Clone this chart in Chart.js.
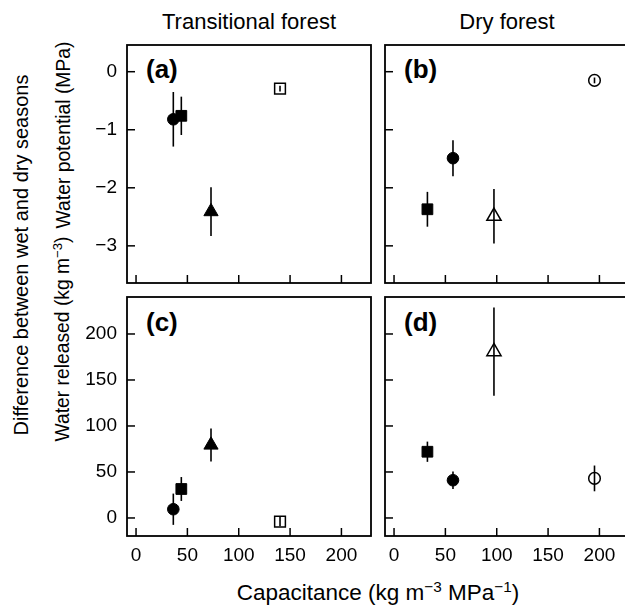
<!DOCTYPE html>
<html>
<head>
<meta charset="utf-8">
<script src="https://cdn.jsdelivr.net/npm/chart.js@4.4.0/dist/chart.umd.min.js"></script>
<style>
  html, body { margin: 0; padding: 0; background: #fff; width: 625px; height: 605px; overflow: hidden; }
  body { position: relative; font-family: "Liberation Sans", Arial, sans-serif; color: #000; }
  canvas { position: absolute; }
  .txt { position: absolute; white-space: nowrap; font-size: 22px; line-height: 24px; }
  .ylab { font-size: 20px; }
  .ylab2 { font-size: 19.3px; }
  .panel { position: absolute; white-space: nowrap; font-size: 26px; font-weight: bold; line-height: 26px; }
  .rot { transform: translate(-50%, -50%) rotate(-90deg); }
  .sup { font-size: 0.68em; position: relative; top: -0.55em; }
</style>
</head>
<body>
<div class="txt" style="left:127px;width:244px;text-align:center;top:10px">Transitional forest</div>
<div class="txt" style="left:385px;width:244px;text-align:center;top:10px">Dry forest</div>
<div class="txt ylab rot" style="left:21px;top:255px">Difference between wet and dry seasons</div>
<div class="txt ylab2 rot" style="left:64px;top:135px">Water potential (MPa)</div>
<div class="txt ylab2 rot" style="left:64px;top:339px">Water released (kg m<span class="sup">&minus;3</span>)</div>
<div class="txt" style="left:127px;width:502px;text-align:center;top:581px;font-size:22.5px">Capacitance (kg m<span class="sup">&minus;3</span> MPa<span class="sup">&minus;1</span>)</div>
<div class="panel" style="left:146px;top:56px">(a)</div>
<div class="panel" style="left:404px;top:56px">(b)</div>
<div class="panel" style="left:146px;top:309px">(c)</div>
<div class="panel" style="left:404px;top:309px">(d)</div>

<script>
// capacitance (x) of each species, transitional forest then dry forest
const transCapacitance = [36.3, 44.1, 73, 140.2];
const dryCapacitance = [57.4, 32.5, 97.3, 195.2];

// water potential difference (MPa) and its error
const transPotential = [-0.82, -0.76, -2.41, -0.29];
const transPotentialErr = [0.47, 0.33, 0.42, 0.05];
const dryPotential = [-1.49, -2.37, -2.49, -0.15];
const dryPotentialErr = [0.31, 0.30, 0.47, 0.05];

// water released (kg m-3) and its error
const transReleased = [9.5, 31.5, 79.3, -4];
const transReleasedErr = [17, 13, 18, 5];
const dryReleased = [41, 72, 180.8, 43];
const dryReleasedErr = [9.5, 11, 48, 14];

// tick labels
const capacitanceTicks = [0, 50, 100, 150, 200];
const potentialTicks = [0, -1, -2, -3];
const releasedTicks = [0, 50, 100, 150, 200];

// marker symbols
const transSymbols = ["circle", "rect", "triangle", "rect"];
const transFilled = [true, true, true, false];
const drySymbols = ["circle", "rect", "triangle", "circle"];
const dryFilled = [true, true, false, false];

Chart.defaults.color = "#000";
Chart.defaults.font.family = '"Liberation Sans", Arial, sans-serif';

const PAD_L = 70, PAD_T = 10, PAD_R = 10, PAD_B = 50;

const frame = {
    id: "frame",
    afterDatasetsDraw(chart) {
        const ctx = chart.ctx;
        const a = chart.chartArea;
        const xs = chart.scales.x, ys = chart.scales.y;
        ctx.save();
        ctx.strokeStyle = "#000";
        // error bars
        ctx.lineWidth = 1.6;
        chart.data.datasets.forEach(ds => {
            ds.data.forEach((p, i) => {
                const e = ds.errors[i];
                const px = xs.getPixelForValue(p.x);
                ctx.beginPath();
                ctx.moveTo(px, ys.getPixelForValue(p.y + e));
                ctx.lineTo(px, ys.getPixelForValue(p.y - e));
                ctx.stroke();
            });
        });
        // box
        ctx.lineWidth = 1.8;
        ctx.strokeRect(a.left, a.top, a.right - a.left, a.bottom - a.top);
        // inward ticks
        ctx.lineWidth = 1.5;
        xs.ticks.forEach(t => {
            const px = xs.getPixelForValue(t.value);
            ctx.beginPath();
            ctx.moveTo(px, a.bottom);
            ctx.lineTo(px, a.bottom - 8);
            ctx.stroke();
        });
        ys.ticks.forEach(t => {
            const py = ys.getPixelForValue(t.value);
            ctx.beginPath();
            ctx.moveTo(a.left, py);
            ctx.lineTo(a.left + 8, py);
            ctx.stroke();
        });
        ctx.restore();
    }
};

function noPadding(s) {
    s.paddingLeft = 0;
    s.paddingRight = 0;
    s.paddingTop = 0;
    s.paddingBottom = 0;
}

function makePanel(box, xVals, yVals, errs, symbols, filled, yMin, yMax, yTicks, showX, showY) {
    const canvas = document.createElement("canvas");
    canvas.width = box.w + PAD_L + PAD_R;
    canvas.height = box.h + PAD_T + PAD_B;
    canvas.style.left = (box.left - PAD_L) + "px";
    canvas.style.top = (box.top - PAD_T) + "px";
    document.body.appendChild(canvas);

    const radii = symbols.map(s => s === "circle" ? 5.8 : s === "rect" ? 7.6 : 8.2);

    return new Chart(canvas, {
        type: "scatter",
        data: {
            datasets: [{
                data: xVals.map((x, i) => ({ x: x, y: yVals[i] })),
                errors: errs,
                pointStyle: symbols,
                pointRadius: radii,
                backgroundColor: filled.map(f => f ? "#000" : "rgba(0,0,0,0)"),
                borderColor: "#000",
                borderWidth: filled.map(f => f ? 1 : 1.5)
            }]
        },
        options: {
            responsive: false,
            animation: false,
            events: [],
            layout: { padding: { left: 0, top: PAD_T, right: PAD_R, bottom: 0 } },
            plugins: { legend: { display: false }, tooltip: { enabled: false } },
            scales: {
                x: {
                    type: "linear",
                    min: -8.8,
                    max: 228.8,
                    grid: { display: false, drawTicks: false },
                    border: { display: false },
                    afterBuildTicks: s => { s.ticks = capacitanceTicks.map(v => ({ value: v })); },
                    afterFit: s => { s.height = PAD_B; noPadding(s); },
                    ticks: { display: showX, padding: 8, font: { size: 19 }, maxRotation: 0, autoSkip: false }
                },
                y: {
                    type: "linear",
                    min: yMin,
                    max: yMax,
                    grid: { display: false, drawTicks: false },
                    border: { display: false },
                    afterBuildTicks: s => { s.ticks = yTicks.map(v => ({ value: v })); },
                    afterFit: s => { s.width = PAD_L; noPadding(s); },
                    ticks: {
                        display: showY,
                        padding: 10,
                        font: { size: 19 },
                        autoSkip: false,
                        callback: v => String(v).replace("-", "\u2212")
                    }
                }
            }
        },
        plugins: [frame]
    });
}

makePanel({ left: 127, top: 45, w: 244, h: 238 }, transCapacitance, transPotential, transPotentialErr,
    transSymbols, transFilled, -3.64, 0.46, potentialTicks, false, true);
makePanel({ left: 385, top: 45, w: 244, h: 238 }, dryCapacitance, dryPotential, dryPotentialErr,
    drySymbols, dryFilled, -3.64, 0.46, potentialTicks, false, false);
makePanel({ left: 127, top: 297, w: 244, h: 239 }, transCapacitance, transReleased, transReleasedErr,
    transSymbols, transFilled, -19.6, 240.2, releasedTicks, true, true);
makePanel({ left: 385, top: 297, w: 244, h: 239 }, dryCapacitance, dryReleased, dryReleasedErr,
    drySymbols, dryFilled, -19.6, 240.2, releasedTicks, true, false);
</script>
</body>
</html>
